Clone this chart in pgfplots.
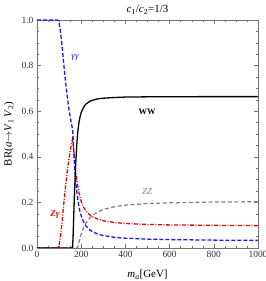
\documentclass[border=0pt]{standalone}
\usepackage{fontspec}
\setmainfont{Liberation Serif}
\usepackage{pgfplots}
\pgfplotsset{compat=1.18}
\usetikzlibrary{calc}
\definecolor{cblue}{RGB}{25,25,235}
\definecolor{cred}{RGB}{235,0,0}
\definecolor{cgray}{RGB}{128,128,128}
\begin{document}
\begin{tikzpicture}
\begin{axis}[
 scale only axis, width=221bp, height=228bp,
 xmin=0, xmax=1000, ymin=0, ymax=1,
 xtick={0,200,400,600,800,1000}, ytick={0,0.2,0.4,0.6,0.8,1},
 minor x tick num=3, minor y tick num=3,
 tick align=inside, major tick length=4bp, minor tick length=2bp,
 /pgf/number format/assume math mode=true,
 /pgf/number format/1000 sep={},
 yticklabel style={/pgf/number format/fixed, /pgf/number format/fixed zerofill, /pgf/number format/precision=1},
 tick label style={font=\fontsize{9.5}{10}\selectfont, text=black!80},
 axis line style={black!55, line width=0.5pt},
 every tick/.style={black!55, line width=0.4pt},
 clip=true,
]
\coordinate (sw) at (rel axis cs:0,0);
% ZZ
\addplot[cgray, line width=1.2pt, dash pattern=on 4bp off 2.5bp] coordinates {
(0,0)(182.4,0)(183,0.001)(186,0.0096)(190,0.0248)(195,0.0436)(200,0.0604)(210,0.0872)(220,0.1071)(235,0.1282)(250,0.1427)(275,0.1587)(300,0.169)(350,0.1811)(400,0.1879)(500,0.1949)(600,0.1983)(800,0.2015)(1000,0.2029)};
% Z gamma
\addplot[cred, line width=1.3pt, dash pattern=on 4bp off 1.5bp on 1bp off 1.5bp] coordinates {
(0,0)(91.2,0)(95,0.0014)(100,0.0138)(105,0.0418)(110,0.0825)(115,0.1307)(120,0.1815)(125,0.2314)(130,0.2782)(135,0.3209)(140,0.3594)(145,0.3937)(150,0.4242)(155,0.4511)(160.8,0.4786)(163,0.467)(165,0.445)(168,0.409)(170,0.386)(173,0.355)(176,0.329)(180,0.300)(183,0.281)(186,0.264)(190,0.243)(195,0.222)(200,0.2054)(210,0.1811)(220,0.1647)(235,0.1483)(250,0.1376)(275,0.1264)(300,0.1195)(350,0.1117)(400,0.1075)(500,0.1033)(600,0.1012)(800,0.0994)(1000,0.0980)};
% gamma gamma
\addplot[cblue, line width=1.3pt, dash pattern=on 4bp off 2bp] coordinates {
(0,1)(91.2,1)(95,0.9986)(100,0.9862)(105,0.9582)(110,0.9175)(115,0.8693)(120,0.8185)(125,0.7686)(130,0.7218)(135,0.6791)(140,0.6406)(145,0.6063)(150,0.5758)(155,0.5489)(160.8,0.5214)(163,0.490)(165,0.452)(168,0.397)(170,0.364)(173,0.321)(176,0.286)(180,0.248)(183,0.225)(186,0.205)(190,0.181)(195,0.158)(200,0.1406)(210,0.1153)(220,0.0986)(235,0.0823)(250,0.0718)(275,0.061)(300,0.0544)(350,0.0469)(400,0.0429)(500,0.0389)(600,0.0369)(800,0.0345)(1000,0.0334)};
% WW
\addplot[black, line width=1.3pt] coordinates {
(0,0)(160.8,0)(163,0.043)(165,0.102)(168,0.194)(170,0.250)(173,0.324)(176,0.386)(180,0.452)(183,0.493)(186,0.522)(190,0.551)(195,0.576)(200,0.594)(210,0.616)(220,0.630)(235,0.641)(250,0.648)(275,0.654)(300,0.657)(350,0.660)(400,0.662)(500,0.663)(600,0.6635)(800,0.664)(1000,0.664)};
\node[cblue, font=\fontsize{9}{10}\selectfont\itshape] at (axis cs:172,0.838) {γγ};
\node[black, font=\fontsize{8.5}{10}\selectfont\bfseries] at (axis cs:498,0.596) {WW};
\node[cgray, font=\fontsize{9}{10}\selectfont\itshape] at (axis cs:498,0.246) {ZZ};
\node[cred, font=\fontsize{9}{10}\selectfont\bfseries\itshape] at (axis cs:81,0.145) {Zγ};
\end{axis}
\node[font=\fontsize{11}{12}\selectfont] at ($(sw)+(110.5bp,238bp)$) {\textit{c}\textsubscript{1}/\textit{c}\textsubscript{2}=1/3};
\node[font=\fontsize{11}{12}\selectfont] at ($(sw)+(110.5bp,-27bp)$) {\textit{m}\textsubscript{\textit{a}}[GeV]};
\node[font=\fontsize{11}{12}\selectfont, rotate=90] at ($(sw)+(-28bp,114bp)$) {BR(\textit{a}$\rightarrow$\textit{V}\textsubscript{1}\,\textit{V}\textsubscript{2})};
\pgfresetboundingbox
\path (sw) ++(-37bp,-33bp) rectangle ++(266bp,281bp);
\end{tikzpicture}
\end{document}
